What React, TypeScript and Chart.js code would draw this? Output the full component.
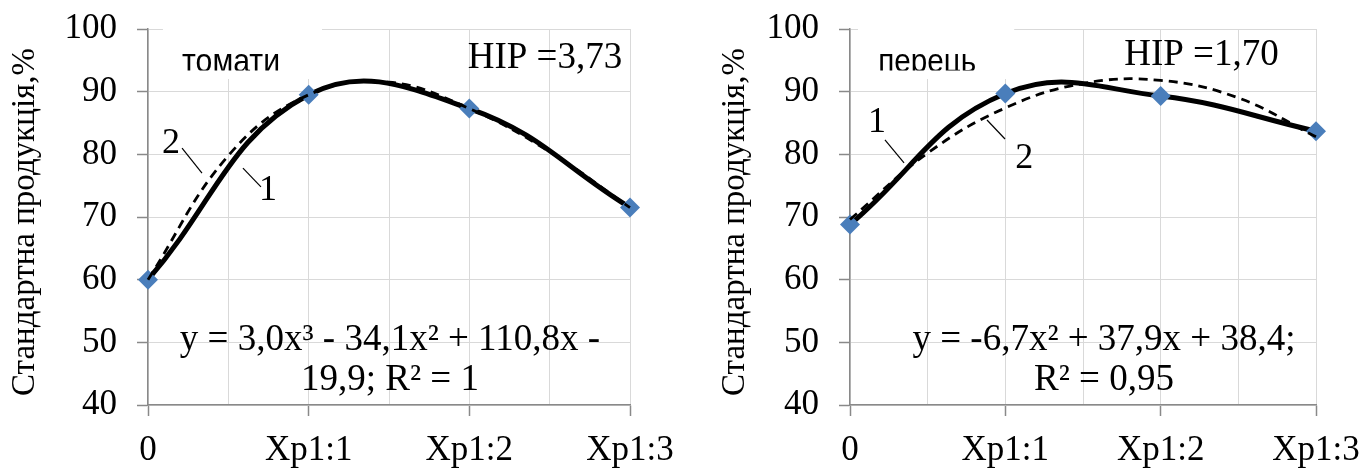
import { useEffect, useRef } from "react";
import { Chart, registerables } from "chart.js";

Chart.register(...registerables);

// Category labels under the integer x positions
const categories = ["0", "Хр1:1", "Хр1:2", "Хр1:3"];
const yMin = 40;
const yMax = 100;
const yStep = 10;
const xStep = 0.5;

// Measured standard produce share, %
const tomatoValues = [60.0, 89.5, 87.3, 71.5];
const pepperValues = [68.8, 89.7, 89.3, 83.7];

// Trend curves, sampled at half-category steps
const trendSteps = [0, 0.5, 1, 1.5, 2, 2.5, 3];
const tomatoTrend = [60.0, 79.8, 89.5, 91.5, 87.3, 80.4, 71.5];
const pepperTrend = [69.6, 80.2, 87.4, 91.3, 91.8, 89.0, 82.8];

const SERIF = '"Liberation Serif", "Times New Roman", serif';
const SANS = '"Liberation Sans", Arial, sans-serif';
const AXIS_GREY = "#898989";
const GRID_GREY = "#d9d9d9";
const MARKER_BLUE = "#4a7ebb";
const Y_TITLE = "Стандартна продукція,%";

interface CurveLabel {
  text: string;
  x: number;
  y: number;
  line: [number, number, number, number];
}

interface Panel {
  name: string;
  hir: string;
  eq: string[];
  values: number[];
  trend: number[];
  axisLeft: number;
  padRight: number;
  yTitleX: number;
  box: [number, number, number, number];
  nameX: number;
  hirX: number;
  hirY: number;
  eqX: number;
  eqY: [number, number];
  labels: CurveLabel[];
}

const tomatoPanel: Panel = {
  name: "томати",
  hir: "НІР =3,73",
  eq: ["y = 3,0x³ - 34,1x² + 110,8x -", "19,9; R² = 1"],
  values: tomatoValues,
  trend: tomatoTrend,
  axisLeft: 148,
  padRight: 53,
  yTitleX: 25,
  box: [0.093, 100.64, 1.083, 92.02],
  nameX: 0.212,
  hirX: 1.99,
  hirY: 93.8,
  eqX: 1.506,
  eqY: [48.7, 42.35],
  labels: [
    { text: "2", x: 0.143, y: 80.2, line: [0.212, 81.0, 0.336, 77.0] },
    { text: "1", x: 0.747, y: 72.7, line: [0.591, 77.8, 0.703, 74.8] },
  ],
};

const pepperPanel: Panel = {
  name: "перець",
  hir: "НІР =1,70",
  eq: ["y = -6,7x² + 37,9x + 38,4;", "R² = 0,95"],
  values: pepperValues,
  trend: pepperTrend,
  axisLeft: 167,
  padRight: 50,
  yTitleX: 52,
  box: [0.0515, 100.64, 1.057, 92.02],
  nameX: 0.182,
  hirX: 1.765,
  hirY: 94.26,
  eqX: 1.635,
  eqY: [48.7, 42.35],
  labels: [
    { text: "1", x: 0.174, y: 83.57, line: [0.225, 82.29, 0.348, 78.62] },
    { text: "2", x: 1.121, y: 77.82, line: [0.882, 85.48, 0.998, 82.45] },
  ],
};

function notesPlugin(p: Panel) {
  return {
    id: "panelNotes",
    beforeDatasetsDraw(chart: any) {
      const { ctx } = chart;
      const xs = chart.scales.x;
      const ys = chart.scales.y;
      const [bx0, by0, bx1, by1] = p.box;
      const left = xs.getPixelForValue(bx0);
      const top = ys.getPixelForValue(by0);
      const right = xs.getPixelForValue(bx1);
      const bottom = ys.getPixelForValue(by1);
      ctx.save();
      ctx.fillStyle = "#ffffff";
      ctx.fillRect(left, top, right - left, bottom - top);
      // crop the panel name the way its text frame does
      ctx.beginPath();
      ctx.rect(left, top, right - left, bottom - top - 8.5);
      ctx.clip();
      ctx.fillStyle = "#000";
      ctx.font = `34px ${SANS}`;
      ctx.textAlign = "left";
      ctx.textBaseline = "alphabetic";
      ctx.fillText(p.name, xs.getPixelForValue(p.nameX), bottom - 7, 98);
      ctx.restore();
    },
    afterDraw(chart: any) {
      const { ctx, chartArea } = chart;
      const xs = chart.scales.x;
      const ys = chart.scales.y;
      const X = (v: number) => xs.getPixelForValue(v);
      const Y = (v: number) => ys.getPixelForValue(v);
      ctx.save();
      ctx.fillStyle = "#000";
      ctx.textBaseline = "alphabetic";

      ctx.font = `37px ${SERIF}`;
      ctx.textAlign = "left";
      ctx.fillText(p.hir, X(p.hirX), Y(p.hirY));

      ctx.textAlign = "center";
      p.eq.forEach((line, i) => ctx.fillText(line, X(p.eqX), Y(p.eqY[i])));

      ctx.font = `36px ${SERIF}`;
      p.labels.forEach((l) => {
        ctx.fillText(l.text, X(l.x), Y(l.y));
        ctx.beginPath();
        ctx.strokeStyle = "#000";
        ctx.lineWidth = 1.2;
        ctx.moveTo(X(l.line[0]), Y(l.line[1]));
        ctx.lineTo(X(l.line[2]), Y(l.line[3]));
        ctx.stroke();
      });

      // rotated axis title
      ctx.translate(p.yTitleX, (chartArea.top + chartArea.bottom) / 2 + 5);
      ctx.rotate(-Math.PI / 2);
      ctx.font = `33px ${SERIF}`;
      ctx.textAlign = "center";
      ctx.textBaseline = "middle";
      ctx.fillText(Y_TITLE, 0, 0);
      ctx.restore();
    },
  };
}

function buildConfig(p: Panel): any {
  const tickFont = { family: SERIF, size: 35 };
  const xTicks: number[] = [];
  for (let v = 0; v <= categories.length - 1 + 1e-9; v += xStep) xTicks.push(v);
  return {
    type: "line",
    data: {
      datasets: [
        {
          label: "2",
          data: trendSteps.map((x, i) => ({ x, y: p.trend[i] })),
          borderColor: "#000",
          borderWidth: 2.8,
          borderDash: [9, 6],
          pointRadius: 0,
          tension: 0.4,
          fill: false,
          clip: false,
          order: 0,
        },
        {
          label: "1",
          data: p.values.map((y, i) => ({ x: i, y })),
          borderColor: "#000",
          borderWidth: 5,
          pointStyle: "rectRot",
          pointRadius: 10,
          pointBackgroundColor: MARKER_BLUE,
          pointBorderColor: MARKER_BLUE,
          pointBorderWidth: 0,
          tension: 0.42,
          fill: false,
          clip: false,
          order: 1,
        },
      ],
    },
    options: {
      animation: false,
      responsive: false,
      events: [],
      layout: { padding: { top: 29, right: p.padRight, left: 0, bottom: 0 } },
      plugins: { legend: { display: false }, tooltip: { enabled: false } },
      scales: {
        x: {
          type: "linear",
          min: 0,
          max: categories.length - 1,
          afterBuildTicks: (s: any) => {
            s.ticks = xTicks.map((value) => ({ value }));
          },
          afterFit: (s: any) => {
            s.height = 64;
            s.paddingLeft = 0;
            s.paddingRight = 0;
            s.paddingTop = 0;
            s.paddingBottom = 0;
          },
          ticks: {
            autoSkip: false,
            maxRotation: 0,
            minRotation: 0,
            padding: 14,
            color: "#000",
            font: tickFont,
            callback: (v: number) =>
              Number.isInteger(v) ? categories[v] : "",
          },
          grid: {
            color: GRID_GREY,
            lineWidth: 1,
            tickLength: 11,
            tickWidth: 1.5,
            tickColor: (c: any) =>
              c.tick && Number.isInteger(c.tick.value)
                ? AXIS_GREY
                : "rgba(0,0,0,0)",
          },
          border: { color: AXIS_GREY, width: 1.5 },
        },
        y: {
          type: "linear",
          min: yMin,
          max: yMax,
          afterFit: (s: any) => {
            s.width = p.axisLeft;
            s.paddingLeft = 0;
            s.paddingRight = 0;
            s.paddingTop = 0;
            s.paddingBottom = 0;
          },
          ticks: {
            stepSize: yStep,
            padding: 20,
            color: "#000",
            font: tickFont,
          },
          grid: {
            color: GRID_GREY,
            lineWidth: 1,
            tickLength: 11,
            tickWidth: 1.5,
            tickColor: AXIS_GREY,
          },
          border: { color: AXIS_GREY, width: 1.5 },
        },
      },
    },
    plugins: [notesPlugin(p)],
  };
}

function PanelChart({ panel, left }: { panel: Panel; left: number }) {
  const ref = useRef<HTMLCanvasElement | null>(null);
  useEffect(() => {
    if (!ref.current) return;
    const chart = new Chart(ref.current, buildConfig(panel));
    return () => chart.destroy();
  }, [panel]);
  return (
    <canvas
      ref={ref}
      width={683}
      height={469}
      style={{ position: "absolute", left, top: 0, width: 683, height: 469 }}
    />
  );
}

export default function App() {
  return (
    <div
      style={{
        position: "absolute",
        left: 0,
        top: 0,
        width: 1366,
        height: 469,
        background: "#ffffff",
        overflow: "hidden",
      }}
    >
      <PanelChart panel={tomatoPanel} left={0} />
      <PanelChart panel={pepperPanel} left={683} />
    </div>
  );
}
